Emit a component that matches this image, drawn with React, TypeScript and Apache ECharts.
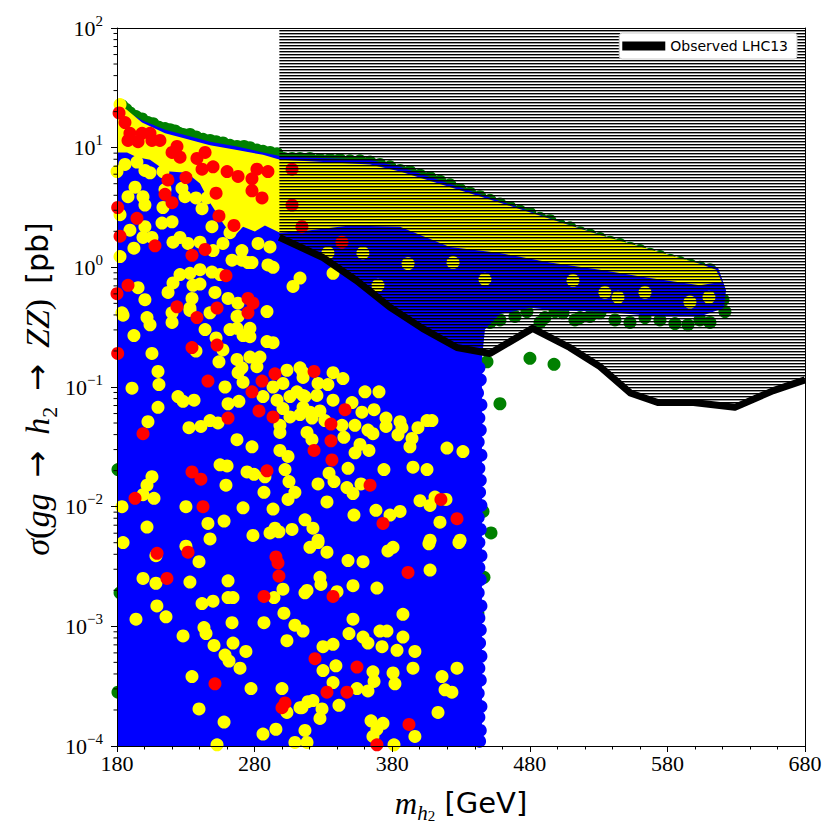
import React, { useEffect, useRef } from "react";
import * as echarts from "echarts";

// All point values are [m_h2 in GeV, log10(sigma / pb)]

// Observed LHC13 exclusion line
const observedMass = [298, 330, 354, 378, 402, 427, 451, 482, 509, 531, 553, 573, 599, 629, 657, 680];
const observedLog = [0.25, 0.08, -0.11, -0.33, -0.51, -0.67, -0.72, -0.51, -0.67, -0.83, -1.05, -1.13, -1.13, -1.17, -1.03, -0.94];

// Outline of the densely filled blue (allowed) region
const blueRegion = [
  [180, 1.37], [185.8, 1.31], [198.2, 1.23], [214.9, 1.15], [228, 1.11], [247.6, 1.05], [267.2, 1.01],
  [286.1, 0.96], [298.4, 0.93], [313, 0.92], [363.9, 0.9], [385.7, 0.84], [429.3, 0.67], [501.9, 0.38],
  [574.6, 0.11], [616.7, 0.0], [622.6, -0.19], [621.1, -0.34], [603.6, -0.41], [574.6, -0.41], [531, -0.37],
  [501.9, -0.36], [480.1, -0.34], [458.3, -0.39], [447.4, -0.52], [445.2, -0.77], [445.2, -4.0], [180, -4.0],
];

// Outline of the densely filled yellow band near the top
const yellowRegion = [
  [180, 1.39], [185.8, 1.33], [198.2, 1.21], [214.9, 1.12], [228, 1.08], [247.6, 1.02], [267.2, 0.98],
  [286.1, 0.94], [298.4, 0.9], [313, 0.89], [363.9, 0.86], [385.7, 0.8], [458.3, 0.54], [531, 0.27],
  [603.6, 0.03], [615.3, -0.02], [619.6, -0.12], [603.6, -0.15], [567.3, -0.09], [531, -0.02],
  [494.7, 0.04], [458.3, 0.12], [422, 0.17], [385.7, 0.34], [349.3, 0.35], [320.2, 0.31], [298.4, 0.29],
  [287.5, 0.35], [280.2, 0.3], [271.6, 0.34], [264.3, 0.25], [257, 0.37], [247.6, 0.54], [240.3, 0.7],
  [230.8, 0.79], [218.5, 0.8], [211.2, 0.84], [204, 0.9], [194.5, 0.92], [187.3, 0.96], [180, 0.96],
];

// Blue points forming the scalloped right edge of the blue region
const blueEdgePoints = [
  [443, -0.84], [444, -0.94], [442, -1.05], [444.5, -1.15], [443, -1.26], [444, -1.36], [442.5, -1.46],
  [444.5, -1.57], [443, -1.68], [444, -1.78], [443.5, -1.88], [444.5, -1.99], [442.5, -2.09], [444, -2.19],
  [443, -2.3], [444.5, -2.41], [443, -2.51], [444, -2.61], [442.5, -2.72], [444.5, -2.83], [443, -2.93],
  [444, -3.03], [443.5, -3.14], [444.5, -3.25], [443, -3.35], [444, -3.45], [442.5, -3.56], [444.5, -3.67],
  [443, -3.76], [444, -3.87], [443.5, -3.96],
];

// Green points: top band, bottom band under the hatch, stray points
const greenPoints = [
  [183.6, 1.35], [186.5, 1.32], [189.4, 1.29], [193.8, 1.26], [198.2, 1.24], [202.5, 1.21], [206.2, 1.2],
  [210.5, 1.17], [214.9, 1.16], [218.5, 1.15], [222.1, 1.14], [225.1, 1.12], [228, 1.11], [233, 1.11],
  [237.4, 1.09], [242.5, 1.07], [247.6, 1.06], [252, 1.05], [257, 1.04], [262.1, 1.02], [267.2, 1.01],
  [272.3, 1.01], [276.6, 1.0], [281.7, 0.98], [286.1, 0.97], [291.2, 0.96], [296.3, 0.95],
  [301.4, 0.91], [307.2, 0.91], [313, 0.91], [320.2, 0.91], [327.5, 0.9], [334.8, 0.9], [342, 0.9],
  [349.3, 0.89], [356.6, 0.89], [363.9, 0.88], [371.1, 0.86], [378.4, 0.84], [385.7, 0.81], [392.9, 0.8],
  [400.2, 0.77], [407.5, 0.75], [414.7, 0.72], [422, 0.69], [429.3, 0.65], [436.5, 0.62], [443.8, 0.59],
  [451.1, 0.56], [458.3, 0.53], [465.6, 0.5], [472.8, 0.47], [480.1, 0.45], [487.4, 0.41], [494.7, 0.39],
  [501.9, 0.35], [509.2, 0.33], [516.5, 0.29], [523.7, 0.27], [531, 0.24], [538.3, 0.21], [545.5, 0.19],
  [552.8, 0.16], [560.1, 0.14], [567.3, 0.11], [574.6, 0.09], [581.9, 0.06], [589.1, 0.04], [596.4, 0.02],
  [603.6, 0.0], [610.9, -0.02],
  [446, -0.36], [451.1, -0.46], [458.3, -0.44], [469.2, -0.41], [477.9, -0.37], [487.4, -0.46],
  [491, -0.42], [498.3, -0.37], [504.1, -0.38], [512.8, -0.44], [516.5, -0.42], [523.7, -0.41],
  [531, -0.38], [541.9, -0.44], [552.8, -0.46], [563.7, -0.42], [574.6, -0.44], [585.5, -0.47],
  [594.9, -0.48], [603.6, -0.44], [610.9, -0.46], [620.4, -0.27], [621.8, -0.37],
  [448.9, -0.79], [480.1, -0.76], [497.6, -0.81], [458.3, -1.14], [451.8, -2.22], [446.7, -2.59],
  [442.3, -2.89], [446, -2.04],
  [193.8, -2.96], [189.4, -3.72], [195.3, -3.77], [206.2, -3.87], [180.7, -3.55], [182.2, -2.72], [180.7, -1.69],
];

const yellowPoints = [
  [182.2, 1.36], [185.8, 0.86], [180, 0.8], [194.5, 0.88], [200.3, 0.81], [204, 0.79], [193.1, 0.67],
  [188, 0.59], [198.9, 0.59], [200.3, 0.52], [213.4, 0.8], [214.9, 0.65], [227.2, 0.66], [229.4, 0.59],
  [213.4, 0.5], [212.7, 0.37], [220, 0.38], [182.2, 0.44], [189.4, 0.31], [200.3, 0.34], [198.9, 0.25],
  [205.4, 0.25], [220.7, 0.21], [225.8, 0.25], [231.6, 0.2], [241.8, 0.49], [237.4, 0.58], [245.4, 0.58],
  [249, 0.34], [262.1, 0.29], [265.7, 0.35], [257, 0.2], [240.3, 0.21], [249.8, 0.14], [192.3, 0.16],
  [182.2, 0.09], [270.8, 0.14], [270.8, 0.06], [263.6, 0.06], [282.5, 0.2], [291.2, 0.17], [275.2, 0.04],
  [278.1, 0.04], [289.7, 0.02], [293.4, 0.0], [307.9, -0.16], [313, -0.09], [225.8, -0.06], [220.7, -0.13],
  [233, -0.05], [240.3, -0.02], [249, -0.04], [254.9, -0.06], [235.2, -0.15], [240.3, -0.14], [195.3, -0.17],
  [217.1, -0.21], [251.2, -0.21], [260.7, -0.26], [267.9, -0.3], [200.3, -0.27], [234.5, -0.26], [233, -0.34],
  [183.6, -0.38], [201.8, -0.42], [220, -0.38], [247.6, -0.38], [267.2, -0.41], [289, -0.37],
  [337, -0.05], [369.7, -0.15], [333.3, 0.12], [358.7, 0.12], [391.5, 0.03], [424.2, 0.04], [447.4, -0.1],
  [511.4, -0.11], [534.6, -0.21], [544.1, -0.25], [563.7, -0.21], [596.4, -0.29], [610.2, -0.25],
  [184.4, -0.4], [204, -0.48], [220, -0.46], [233, -0.36], [244, -0.52], [252, -0.59], [257, -0.69],
  [237.4, -0.7], [192.3, -0.57], [205.4, -0.72], [209.8, -0.87], [210.5, -0.98], [190.9, -1.01],
  [209.8, -1.17], [202.5, -1.29], [254.1, -0.79], [258.5, -1.0], [224.3, -1.08], [228, -1.12], [236, -1.11],
  [260.7, -1.14], [268.6, -1.12], [232.3, -1.34], [241, -1.33], [247.6, -1.28], [253.4, -1.3], [267.2, -1.44],
  [278.1, -1.5], [267.2, -0.51], [271.6, -0.57], [276.6, -0.58], [262.1, -0.52], [268, -0.41], [276.6, -0.51],
  [289, -0.62], [293.4, -0.63], [283.9, -0.75], [276.6, -0.75], [267.2, -0.77], [270.8, -0.84], [268, -0.88],
  [271.6, -0.96], [281.7, -0.83], [286.1, -1.08], [293.4, -1.0], [300.6, -0.97], [303.5, -0.86], [313, -0.84],
  [315.2, -0.92], [310.8, -1.04], [315.2, -1.07], [305.7, -1.08], [296.3, -1.11], [300.6, -1.18],
  [305.7, -1.25], [313, -1.23], [315.2, -1.17], [298.4, -1.32], [298.4, -1.38], [318.1, -1.38],
  [298.4, -1.53], [304.3, -1.58], [302.1, -1.69], [305, -1.79], [309.3, -1.88], [304.3, -1.94],
  [293.4, -2.02], [286.8, -1.88], [287.5, -1.75], [254.9, -1.65], [260, -1.66], [274.5, -1.71],
  [279.6, -1.73], [259.2, -1.82], [205.4, -1.75], [201.8, -1.82], [198.9, -1.9], [206.9, -1.93],
  [183.6, -2.0], [230.1, -2.0], [271.6, -2.01], [246.1, -2.14], [257.8, -2.12], [201.8, -2.17],
  [294.8, -2.18], [316.6, -2.11],
  [315.2, -0.88], [326.1, -0.97], [333.3, -0.98], [337, -0.88], [344.2, -0.93], [316.6, -1.08],
  [325.3, -1.07], [337, -1.11], [350.8, -1.13], [360.2, -1.04], [370.4, -1.04], [320.2, -1.21],
  [327.5, -1.2], [321.7, -1.26], [331.1, -1.28], [343.5, -1.32], [352.9, -1.32], [358, -1.21], [366.8, -1.19],
  [362.4, -1.36], [366, -1.39], [375.5, -1.26], [375.5, -1.33], [385.7, -1.29], [387.1, -1.34], [384.2, -1.4],
  [394.4, -1.43], [392.9, -1.5], [398.7, -1.34], [405.3, -1.28], [408.9, -1.28], [321.7, -1.44],
  [344.9, -1.42], [356.6, -1.48], [353, -1.55], [363.1, -1.53], [419.8, -1.51], [431.4, -1.54],
  [347.9, -1.68], [374, -1.69], [395.1, -1.67], [405.3, -1.69], [334.1, -1.72], [337.7, -1.79],
  [326.1, -1.81], [347.1, -1.84], [351.5, -1.89], [357.3, -1.81], [332.6, -1.96], [400.2, -1.95],
  [407.5, -1.99], [411.1, -1.92], [419.1, -1.94], [368.2, -2.03], [378.4, -2.07], [385.7, -2.04],
  [352.2, -2.07], [322.4, -2.18], [414.7, -2.13], [326.1, -2.28], [407.5, -2.28], [429.3, -2.28],
  [247.6, -2.27], [278.8, -2.24], [291.2, -2.22], [297.7, -2.21], [307.2, -2.19], [184.4, -2.3],
  [230.1, -2.33], [208.3, -2.41], [239.6, -2.46], [198.9, -2.6], [208.3, -2.64], [233, -2.63],
  [260.7, -2.62], [300.6, -2.69], [316.6, -2.72], [249.8, -2.79], [241.8, -2.81], [260.7, -2.76],
  [264.3, -2.76], [294.1, -2.76], [209, -2.83], [301.3, -2.89], [193.8, -2.94], [215.6, -2.92],
  [263.6, -2.97], [286.8, -2.97], [309.3, -2.99], [315.2, -3.04], [243.2, -3.01], [244.7, -3.06],
  [228, -3.08], [303.5, -3.12], [250.5, -3.16], [264.3, -3.14], [273.7, -3.21], [258.5, -3.24],
  [261.4, -3.29], [269.4, -3.35], [234.5, -3.42], [277.4, -3.52], [299.9, -3.52], [318.8, -3.63],
  [239.6, -3.69], [303.5, -3.72], [313, -3.68], [257.8, -3.8], [286.1, -3.9], [295.5, -3.86],
  [316.6, -3.87], [309.3, -3.97], [318.1, -3.97], [252.7, -3.99],
  [320.2, -2.34], [326.1, -2.3], [332.6, -2.38], [376.9, -2.37], [380.6, -2.34], [406.7, -2.31],
  [428.5, -2.3], [347.9, -2.45], [358.8, -2.46], [407.5, -2.53], [327.5, -2.59], [328.2, -2.65],
  [318.1, -2.7], [351.5, -2.66], [368.9, -2.68], [339.9, -2.71], [387.8, -2.9], [351.5, -2.94],
  [348.6, -3.06], [371.1, -3.04], [376.2, -3.04], [358.8, -3.09], [362.4, -3.14], [387.8, -3.09],
  [329.7, -3.17], [337, -3.15], [372.6, -3.17], [383.5, -3.2], [396.5, -3.21], [339.1, -3.33],
  [329.7, -3.37], [366, -3.38], [366.8, -3.46], [380.6, -3.39], [382, -3.48], [395.1, -3.35],
  [427.1, -3.35], [416.2, -3.42], [337, -3.47], [354.4, -3.52], [362.4, -3.54], [418.4, -3.53],
  [423.4, -3.55], [341.3, -3.66], [322.4, -3.62], [329, -3.69], [314.4, -3.68], [327.5, -3.77],
  [413.3, -3.72], [364.6, -3.79], [373.3, -3.81], [368.9, -3.86], [366, -3.92], [396.5, -3.92],
  [381.3, -3.99],
];

const redPoints = [
  [181.5, 1.29], [185.8, 1.21], [189.4, 1.12], [188, 1.06], [195.3, 1.05], [198.2, 1.12], [204, 1.12],
  [205.4, 1.06], [211.2, 1.06], [223.6, 1.01], [220, 0.96], [225.8, 0.92], [238.1, 0.91], [244, 0.96],
  [241.8, 0.82], [249.8, 0.84], [260, 0.8], [268, 0.76], [281.7, 0.82], [289.7, 0.8], [278.1, 0.74],
  [278.1, 0.64], [285.4, 0.58], [252, 0.62], [217, 0.73], [230.1, 0.75], [214.9, 0.61], [220, 0.54],
  [254.1, 0.43], [265, 0.35], [194.5, 0.41], [182.2, 0.26], [180.5, 0.5], [207.6, 0.18], [234.5, 0.1],
  [244, 0.15], [259.2, -0.07], [188, -0.15], [223.6, -0.33], [252.7, -0.34], [275.2, -0.26], [278.8, -0.3],
  [275.2, -0.38], [238.1, -0.42], [307.2, 0.82], [307.2, 0.52], [314.4, 0.34], [343.5, 0.21], [180.5, -0.72],
  [234.5, -0.67], [252.7, -0.65], [246.1, -0.95], [285.4, -0.95], [294.8, -0.89], [278.1, -1.04],
  [283.2, -1.2], [293.4, -1.25], [260.7, -1.26], [198.9, -1.39], [234.5, -1.71], [241, -1.77], [289, -1.7],
  [193.1, -1.93], [242.5, -2.0], [323.2, -0.87], [345.7, -1.19], [335.5, -1.31], [335.5, -1.45],
  [323.2, -1.53], [336.2, -1.61], [363.9, -1.82], [415.4, -1.94], [427.1, -2.1], [373.3, -2.14],
  [209.1, -2.39], [231.6, -2.38], [216.3, -2.6], [295.5, -2.42], [297, -2.47], [297.7, -2.58],
  [286.8, -2.75], [251.2, -3.48], [302.1, -3.64], [299.9, -3.68], [391.5, -2.55], [337, -2.75],
  [323.9, -3.27], [354.4, -3.34], [332.6, -3.55], [347.1, -3.55], [392.2, -3.82], [368.9, -3.99],
  [180, -0.22],
];

// Axis decorations
const xTickStep = 100;
const yDecades = [-4, -3, -2, -1, 0, 1];
const minorMultipliers = [2, 3, 4, 5, 6, 7, 8, 9];

const toData = (pts: number[][]) => pts.map((p) => [p[0], Math.pow(10, p[1])]);

function makeHatch(): HTMLCanvasElement {
  const c = document.createElement("canvas");
  c.width = 6;
  c.height = 3;
  const ctx = c.getContext("2d")!;
  ctx.fillStyle = "#000";
  ctx.fillRect(0, 0, 6, 1);
  ctx.fillStyle = "rgba(0,0,0,0.4)";
  ctx.fillRect(0, 1, 6, 1);
  return c;
}

function polygonSeries(points: number[][], color: string, z: number) {
  const data = toData(points);
  return {
    type: "custom",
    coordinateSystem: "cartesian2d",
    data,
    clip: true,
    silent: true,
    z,
    renderItem: (params: any, api: any) => {
      if (params.dataIndex !== 0) return null;
      const pts = data.map((d) => api.coord(d));
      return { type: "polygon", shape: { points: pts }, style: { fill: color } };
    },
  };
}

function scatterSeries(points: number[][], color: string, z: number) {
  return {
    type: "scatter",
    data: toData(points),
    symbol: "circle",
    symbolSize: 13,
    itemStyle: { color, opacity: 1 },
    silent: true,
    clip: true,
    z,
  };
}

export default function App() {
  const ref = useRef<HTMLDivElement>(null);

  useEffect(() => {
    document.body.style.margin = "0";
    if (!ref.current) return;
    const chart = echarts.init(ref.current, undefined, { renderer: "svg" });

    const minorVals: number[][] = [];
    yDecades.forEach((d) =>
      minorMultipliers.forEach((k) => minorVals.push([180, k * Math.pow(10, d)]))
    );

    const observedData = observedMass.map((m, i) => [m, Math.pow(10, observedLog[i])]);
    const hatch = makeHatch();

    const supLabel = (v: number) => {
      const e = Math.round(Math.log10(v));
      return `{b|10}{s|${e < 0 ? "\u2212" + -e : e}}`;
    };

    const option: any = {
      animation: false,
      backgroundColor: "#fff",
      grid: { left: 117, right: 35, top: 28, bottom: 94, containLabel: false },
      legend: {
        right: 43,
        top: 33,
        z: 20,
        orient: "horizontal",
        data: [{ name: "Observed LHC13", icon: "rect", itemStyle: { color: "#000" } }],
        itemWidth: 43,
        itemHeight: 9,
        padding: [6, 9, 6, 3],
        backgroundColor: "#fff",
        borderColor: "#cccccc",
        borderWidth: 1,
        borderRadius: 3,
        textStyle: { fontFamily: "DejaVu Sans", fontSize: 14, color: "#000" },
        selectedMode: false,
      },
      xAxis: [
        {
          type: "value",
          min: 180,
          max: 680,
          interval: xTickStep,
          z: 10,
          axisLine: { show: true, onZero: false, lineStyle: { color: "#000", width: 1 } },
          axisTick: { show: true, inside: false, length: 6, lineStyle: { color: "#000" } },
          minorTick: { show: true, splitNumber: 5, length: 3.5, lineStyle: { color: "#000" } },
          splitLine: { show: false },
          axisLabel: { fontFamily: "Liberation Serif", fontSize: 22, color: "#000", margin: 6 },
        },
        {
          type: "value",
          position: "top",
          min: 180,
          max: 680,
          z: 10,
          axisLine: { show: true, onZero: false, lineStyle: { color: "#000", width: 1 } },
          axisTick: { show: false },
          axisLabel: { show: false },
          splitLine: { show: false },
        },
      ],
      yAxis: [
        {
          type: "log",
          logBase: 10,
          min: 1e-4,
          max: 100,
          splitNumber: 6,
          z: 10,
          axisLine: { show: true, onZero: false, lineStyle: { color: "#000", width: 1 } },
          axisTick: { show: true, inside: false, length: 6, lineStyle: { color: "#000" } },
          splitLine: { show: false },
          axisLabel: {
            margin: 14,
            color: "#000",
            formatter: supLabel,
            rich: {
              b: { fontFamily: "Liberation Serif", fontSize: 22, lineHeight: 30, verticalAlign: "middle", color: "#000" },
              s: { fontFamily: "Liberation Serif", fontSize: 15, lineHeight: 19, verticalAlign: "top", color: "#000" },
            },
          },
        },
        {
          type: "log",
          logBase: 10,
          position: "right",
          min: 1e-4,
          max: 100,
          z: 10,
          axisLine: { show: true, onZero: false, lineStyle: { color: "#000", width: 1 } },
          axisTick: { show: false },
          axisLabel: { show: false },
          splitLine: { show: false },
        },
      ],
      graphic: [
        {
          type: "text",
          x: 461,
          y: 803,
          silent: true,
          style: {
            text: "{i|m}{h|h}{t|2}{g| [GeV]}",
            align: "center",
            verticalAlign: "middle",
            fill: "#000",
            rich: {
              i: { fontFamily: "Liberation Serif", fontStyle: "italic", fontSize: 31, lineHeight: 40, verticalAlign: "middle" },
              h: { fontFamily: "Liberation Serif", fontStyle: "italic", fontSize: 21, lineHeight: 22, verticalAlign: "bottom" },
              t: { fontFamily: "Liberation Serif", fontSize: 15, lineHeight: 12, verticalAlign: "bottom" },
              g: { fontFamily: "DejaVu Sans", fontSize: 29, lineHeight: 40, verticalAlign: "middle" },
            },
          },
        },
        {
          type: "text",
          x: 37,
          y: 389,
          rotation: Math.PI / 2,
          silent: true,
          style: {
            text: "{i|\u03c3}{r|(}{i|gg}{a|\u2002\u2192\u2002}{i|h}{s|2}{a|\u2002\u2192\u2002}{i|ZZ}{r|)}{p|\u2002[pb]}",
            align: "center",
            verticalAlign: "middle",
            fill: "#000",
            rich: {
              i: { fontFamily: "Liberation Serif", fontStyle: "italic", fontSize: 34, lineHeight: 46, verticalAlign: "middle" },
              r: { fontFamily: "Liberation Serif", fontSize: 34, lineHeight: 46, verticalAlign: "middle" },
              a: { fontFamily: "DejaVu Sans", fontSize: 32, lineHeight: 46, verticalAlign: "middle" },
              s: { fontFamily: "Liberation Serif", fontSize: 22, lineHeight: 26, verticalAlign: "bottom" },
              p: { fontFamily: "DejaVu Sans", fontSize: 30, lineHeight: 46, verticalAlign: "middle" },
            },
          },
        },
      ],
      series: [
        scatterSeries(greenPoints, "#008000", 1),
        polygonSeries(blueRegion, "#0000ff", 2),
        scatterSeries(blueEdgePoints, "#0000ff", 2),
        polygonSeries(yellowRegion, "#ffff00", 3),
        scatterSeries(yellowPoints, "#ffff00", 3),
        scatterSeries(redPoints, "#ff0000", 4),
        {
          type: "line",
          data: observedData,
          showSymbol: false,
          silent: true,
          z: 5,
          lineStyle: { opacity: 0, width: 0 },
          areaStyle: { origin: "end", opacity: 1, color: { image: hatch, repeat: "repeat" } },
        },
        {
          type: "line",
          name: "Observed LHC13",
          data: observedData,
          showSymbol: false,
          silent: true,
          z: 6,
          itemStyle: { color: "#000" },
          lineStyle: { color: "#000", width: 7, join: "round" },
        },
        {
          type: "custom",
          coordinateSystem: "cartesian2d",
          data: minorVals,
          clip: false,
          silent: true,
          z: 12,
          renderItem: (_p: any, api: any) => {
            const pt = api.coord([api.value(0), api.value(1)]);
            return {
              type: "line",
              shape: { x1: pt[0] - 3.5, y1: pt[1], x2: pt[0], y2: pt[1] },
              style: { stroke: "#000", lineWidth: 1 },
            };
          },
        },
      ],
    };

    chart.setOption(option);
    return () => chart.dispose();
  }, []);

  return (
    <div
      ref={ref}
      style={{ position: "absolute", left: 0, top: 0, width: "840px", height: "840px" }}
    />
  );
}
